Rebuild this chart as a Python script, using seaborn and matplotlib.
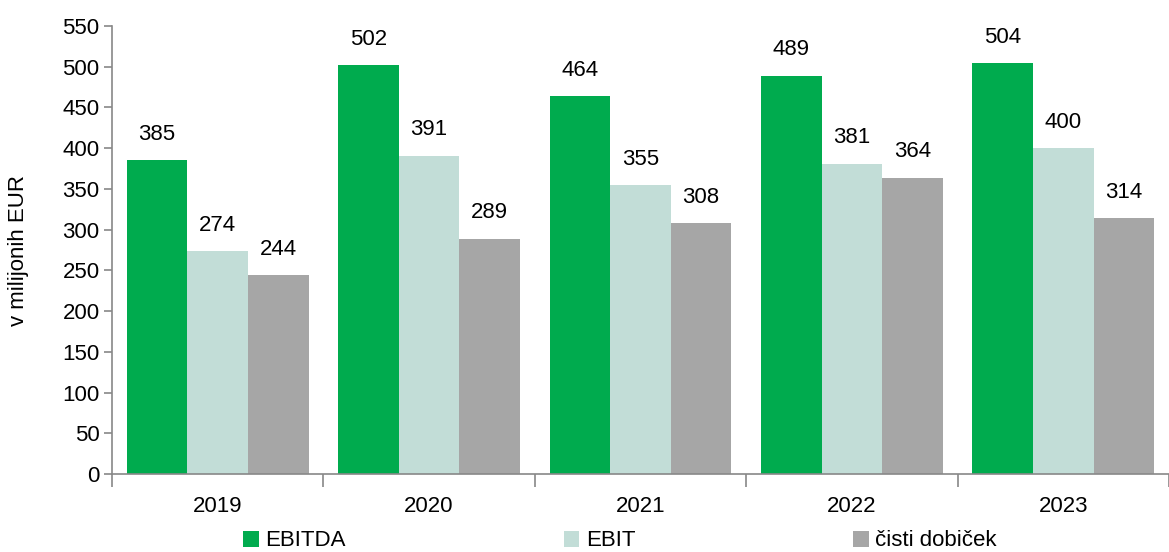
import matplotlib
matplotlib.use("Agg")
import matplotlib.pyplot as plt
import seaborn as sns
import pandas as pd
import numpy as np

years = ["2019", "2020", "2021", "2022", "2023"]
series = ["EBITDA", "EBIT", "čisti dobiček"]
ebitda = [385, 502, 464, 489, 504]
ebit = [274, 391, 355, 381, 400]
cisti = [244, 289, 308, 364, 314]
colors = ["#00AB4E", "#C2DDD7", "#A6A6A6"]
yticks = list(range(0, 551, 50))

sns.set_theme(style="white")
plt.rcParams["font.family"] = ["Liberation Sans", "DejaVu Sans"]
plt.rcParams["text.color"] = "black"
plt.rcParams["xtick.color"] = "black"
plt.rcParams["ytick.color"] = "black"
plt.rcParams["axes.labelcolor"] = "black"
FS = 16

df = pd.DataFrame({
    "year": years * 3,
    "series": [series[0]] * 5 + [series[1]] * 5 + [series[2]] * 5,
    "value": ebitda + ebit + cisti,
})

fig = plt.figure(figsize=(11.69, 5.52), dpi=100)
ax = fig.add_axes([112 / 1169, (552 - 474) / 552, (1169 - 112) / 1169, 448 / 552])

sns.barplot(data=df, x="year", y="value", hue="series", palette=colors,
            width=0.86, gap=0, saturation=1, ax=ax, legend=True, linewidth=0)

for cont in ax.containers:
    ax.bar_label(cont, fmt="%d", padding=11, fontsize=FS, color="black")

ax.set_ylim(0, 550)
ax.set_xlim(-0.5, -0.5 + (1169 - 112) / 214)
ax.set_yticks(yticks)
ax.set_yticklabels([str(v) for v in yticks], fontsize=FS)
ax.set_xticks(range(len(years)))
ax.set_xticklabels(years, fontsize=FS)
ax.tick_params(axis="x", length=0, pad=16, colors="black")
ax.tick_params(axis="y", length=6, color="#888888", labelcolor="black", width=1.2,
               direction="out", left=True, pad=3)
ax.set_xticks(np.arange(-0.5, len(years), 1.0), minor=True)
ax.tick_params(axis="x", which="minor", length=9, color="#888888", width=1.2,
               direction="out", bottom=True)

ax.set_xlabel("")
ax.set_ylabel("v milijonih EUR", fontsize=FS, labelpad=24, color="black")
for s in ["top", "right"]:
    ax.spines[s].set_visible(False)
for s in ["left", "bottom"]:
    ax.spines[s].set_color("#888888")
    ax.spines[s].set_linewidth(1.2)

handles, labels = ax.get_legend_handles_labels()
ax.get_legend().remove()
fig.legend(handles, labels, loc="center", bbox_to_anchor=(620 / 1169, 1 - 541 / 552),
           ncol=3, frameon=False, fontsize=FS, handlelength=0.7, handleheight=0.7,
           handletextpad=0.3, columnspacing=9.8, borderaxespad=0)

fig.savefig("out.png", dpi=100)
